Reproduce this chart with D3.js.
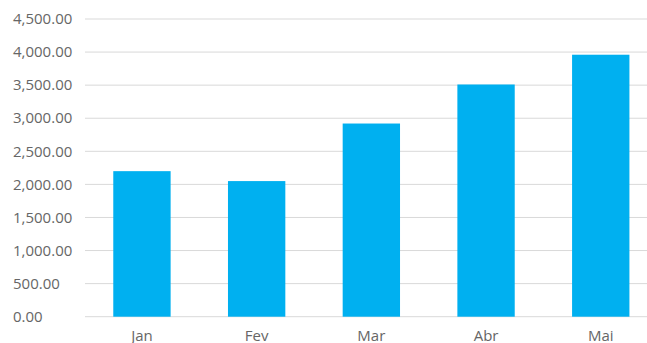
<!DOCTYPE html>
<html>
<head>
<meta charset="utf-8">
<script src="https://cdn.jsdelivr.net/npm/d3@7"></script>
<style>
  body { margin: 0; background: #fff; }
  svg { display: block; font-family: 'Open Sans', sans-serif; }
</style>
</head>
<body>
<svg id="chart" width="647" height="343"></svg>
<script>
const months = ['Jan', 'Fev', 'Mar', 'Abr', 'Mai'];
const values = [2200, 2050, 2920, 3510, 3960];
const yTicks = [0, 500, 1000, 1500, 2000, 2500, 3000, 3500, 4000, 4500];

const svg = d3.select('#chart');
const fmt = d3.format(',.2f');

const x = d3.scaleBand()
  .domain(months)
  .range([84.6, 658.1])
  .paddingInner(0.5)
  .paddingOuter(0.25);

const y = d3.scaleLinear()
  .domain([0, 4500])
  .range([316.7, 19]);

// gridlines
svg.append('g')
  .selectAll('line')
  .data(yTicks)
  .join('line')
  .attr('x1', 85)
  .attr('x2', 647)
  .attr('y1', d => y(d))
  .attr('y2', d => y(d))
  .attr('stroke', '#d9d9d9')
  .attr('stroke-width', 1);

// y labels
svg.append('g')
  .selectAll('text')
  .data(yTicks)
  .join('text')
  .attr('x', 13)
  .attr('y', d => y(d))
  .attr('dy', '0.35em')
  .attr('fill', '#666')
  .style('font-size', '15px')
  .text(d => fmt(d));

// bars
svg.append('g')
  .selectAll('rect')
  .data(values)
  .join('rect')
  .attr('x', (d, i) => x(months[i]))
  .attr('width', x.bandwidth())
  .attr('y', d => y(d))
  .attr('height', d => y(0) - y(d))
  .attr('fill', '#00b0f0');

// x labels
svg.append('g')
  .selectAll('text')
  .data(months)
  .join('text')
  .attr('x', d => x(d) + x.bandwidth() / 2)
  .attr('y', 340.5)
  .attr('text-anchor', 'middle')
  .attr('fill', '#666')
  .style('font-size', '15px')
  .text(d => d);
</script>
</body>
</html>
